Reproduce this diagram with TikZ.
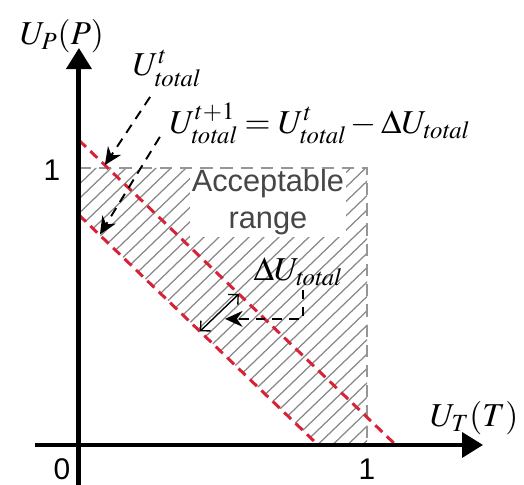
\documentclass[tikz,border=0pt]{standalone}
\usepackage{mathptmx}
\usepackage[no-math]{fontspec}
\setmainfont{Liberation Sans}
\usetikzlibrary{arrows.meta, calc}
\definecolor{LineRed}{RGB}{215, 35, 55}
\definecolor{HatchGray}{RGB}{135, 135, 135}
\definecolor{BoxGray}{RGB}{150, 150, 150}
\definecolor{TextGray}{RGB}{70, 70, 70}

\begin{document}
\begin{tikzpicture}[x=5.76cm, y=5.54cm,
    axis/.style={line width=2.8pt, -{Triangle[length=12pt, width=14pt]}},
    limit/.style={LineRed, line width=1.7pt, dash pattern=on 5.5pt off 3.5pt},
    bound/.style={BoxGray, line width=1.1pt, dash pattern=on 7pt off 4.5pt},
    hatch/.style={HatchGray, line width=0.7pt},
    pointer/.style={line width=1.1pt, dash pattern=on 5.5pt off 4pt, -{Stealth[length=10pt, width=9pt]}},
    lbl/.style={font=\fontsize{19}{22}\selectfont, inner sep=1pt},
    tick/.style={font=\fontsize{17}{20}\selectfont, inner sep=0pt}]
  \useasboundingbox (-0.274,-0.144) rectangle (1.545,1.606);

  % Hatched region
  \begin{scope}
    \clip (0,0.83) -- (0,1) -- (1,1) -- (1,0) -- (0.83,0) -- cycle;
    \foreach \c in {-1.2,-1.148,...,1.0}
      \draw[hatch] (\c,0) -- ++(1.3,1.3);
  \end{scope}

  % Acceptable range
  \node[lbl, fill=white, text=TextGray, align=center, font=\fontsize{17.5}{21}\selectfont] (range) at (0.656,0.877) {Acceptable\\range};
  \draw[bound] (0,1) -- (1,1) -- (1,0);

  % Budget lines
  \draw[limit] (0,1.1) -- (1.1,0);
  \draw[limit] (0,0.83) -- (0.83,0);

  % Axes
  \coordinate (xs) at (-0.153,0);
  \coordinate (xe) at (1.403,0);
  \coordinate (ys) at (0,-0.144);
  \coordinate (ye) at (0,1.433);
  \draw[axis] (xs) -- (xe);
  \draw[axis] (ys) -- (ye);
  \node[lbl] (yl) at (-0.059,1.476) {$U_P(P)$};
  \node[lbl] (xl) at (1.372,0.097) {$U_T(T)$};
  \node[tick] (oney) at (-0.094,0.993) {1};
  \node[tick] (zero) at (-0.059,-0.088) {0};
  \node[tick] (onex) at (1,-0.088) {1};

  % Total utility labels
  \node[lbl] (ut) at (0.305,1.36) {$U^{t}_{\mathit{total}}$};
  \node[lbl] (unext) at (0.835,1.16) {$U^{t+1}_{\mathit{total}} = U^{t}_{\mathit{total}} - \Delta U_{\mathit{total}}$};
  \coordinate (a1) at (0.247,1.256);
  \coordinate (b1) at (0.09,1.01);
  \coordinate (a2) at (0.281,1.112);
  \coordinate (b2) at (0.073,0.76);
  \draw[pointer] (a1) -- (b1);
  \draw[pointer] (a2) -- (b2);

  % Step between the lines
  \coordinate (lo) at (0.42,0.41);
  \coordinate (hi) at (0.555,0.545);
  \draw[line width=0.8pt, {Straight Barb[length=4pt]}-{Straight Barb[length=4pt]}] (lo) -- (hi);
  \node[lbl] (du) at (0.76,0.625) {$\Delta U_{\mathit{total}}$};
  \coordinate (e1) at (0.778,0.56);
  \coordinate (e2) at (0.507,0.455);
  \draw[pointer] (e1) |- (e2);
\end{tikzpicture}
\end{document}
